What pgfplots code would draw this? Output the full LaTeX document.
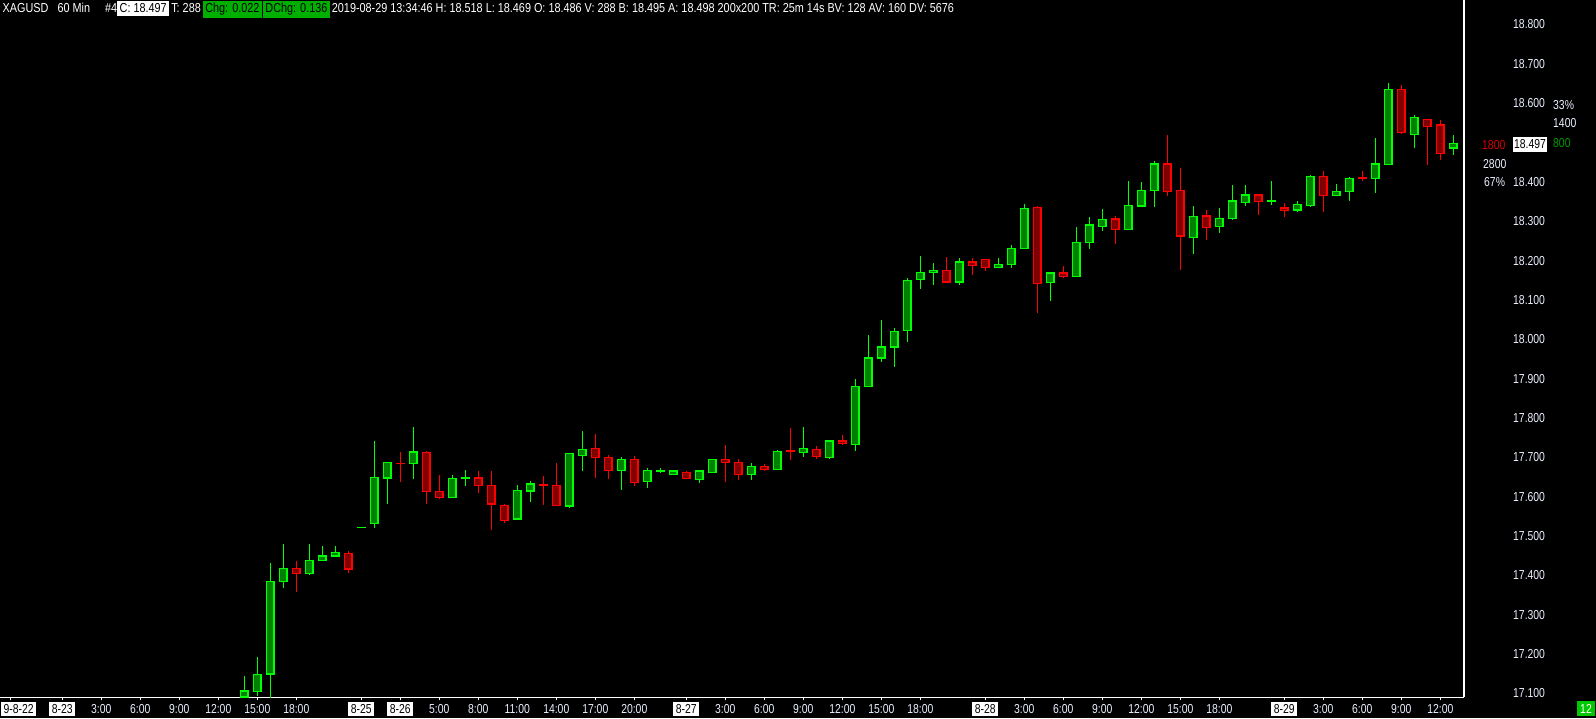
\documentclass[border=0pt]{standalone}
\usepackage{pgfplots}
\pgfplotsset{compat=1.18}
\usepackage{pgfplotstable}
\usepackage{fontspec}
\setmainfont{Liberation Sans}[FakeStretch=0.8]
\newfontfamily\hdrfont{Liberation Sans}[FakeStretch=0.835]
\definecolor{upline}{RGB}{0,255,0}
\definecolor{upfill}{RGB}{0,128,0}
\definecolor{dnline}{RGB}{255,0,0}
\definecolor{dnfill}{RGB}{128,0,0}
\definecolor{labcol}{RGB}{235,240,255}
\definecolor{hdrgreen}{RGB}{0,176,0}
\definecolor{boxgreen}{RGB}{0,200,0}
\newcommand\dl[1]{{\setlength\fboxsep{2.5pt}\colorbox{white}{\textcolor{black}{#1}}}}
\newcommand\hw[1]{{\setlength\fboxsep{2.5pt}\colorbox{white}{\textcolor{black}{#1}}}}
\newcommand\hg[1]{{\setlength\fboxsep{2.5pt}\colorbox{hdrgreen}{\textcolor{black}{#1}}}}

\pgfplotstableread{
i O H L C
0 17.091 17.145 17.088 17.106
1 17.105 17.193 17.095 17.149
2 17.149 17.431 17.088 17.385
3 17.385 17.480 17.369 17.418
5 17.405 17.480 17.402 17.438
6 17.438 17.475 17.438 17.449
7 17.449 17.475 17.448 17.459
9 17.522 17.522 17.522 17.522
10 17.532 17.742 17.521 17.649
11 17.647 17.687 17.582 17.687
13 17.685 17.777 17.646 17.713
16 17.598 17.655 17.598 17.647
17 17.646 17.668 17.626 17.647
21 17.543 17.630 17.543 17.616
22 17.614 17.640 17.587 17.632
25 17.576 17.710 17.572 17.710
26 17.705 17.767 17.666 17.720
29 17.667 17.701 17.617 17.695
31 17.639 17.673 17.621 17.667
32 17.666 17.673 17.661 17.667
33 17.657 17.665 17.657 17.665
35 17.644 17.667 17.636 17.665
36 17.662 17.695 17.662 17.695
39 17.656 17.686 17.643 17.677
41 17.669 17.719 17.669 17.715
43 17.713 17.777 17.702 17.723
45 17.700 17.744 17.697 17.741
47 17.733 17.899 17.717 17.880
48 17.880 18.011 17.879 17.952
49 17.952 18.049 17.943 17.980
50 17.980 18.028 17.930 18.020
51 18.023 18.156 17.994 18.150
52 18.152 18.212 18.129 18.170
53 18.170 18.194 18.139 18.175
55 18.145 18.207 18.139 18.196
58 18.183 18.207 18.183 18.190
59 18.190 18.240 18.182 18.231
60 18.231 18.344 18.231 18.333
62 18.145 18.170 18.096 18.168
64 18.160 18.285 18.160 18.246
65 18.246 18.311 18.230 18.290
66 18.287 18.331 18.276 18.305
68 18.279 18.402 18.279 18.340
69 18.338 18.400 18.335 18.378
70 18.378 18.453 18.335 18.445
73 18.259 18.339 18.218 18.312
75 18.286 18.334 18.270 18.307
76 18.307 18.392 18.303 18.351
77 18.347 18.392 18.339 18.366
79 18.350 18.402 18.341 18.351
81 18.328 18.351 18.324 18.343
82 18.340 18.417 18.337 18.414
84 18.365 18.395 18.365 18.376
85 18.375 18.412 18.351 18.409
87 18.408 18.511 18.372 18.445
88 18.444 18.651 18.444 18.635
90 18.520 18.570 18.486 18.564
93 18.486 18.518 18.469 18.497
}\up

\pgfplotstableread{
i O H L C
4 17.418 17.437 17.359 17.405
8 17.456 17.462 17.405 17.416
12 17.685 17.714 17.638 17.684
14 17.713 17.715 17.582 17.614
15 17.614 17.655 17.594 17.598
18 17.647 17.665 17.610 17.629
19 17.629 17.665 17.516 17.581
20 17.578 17.581 17.532 17.540
23 17.630 17.653 17.579 17.629
24 17.629 17.686 17.577 17.578
27 17.723 17.759 17.648 17.700
28 17.700 17.706 17.646 17.666
30 17.695 17.704 17.626 17.636
34 17.662 17.665 17.646 17.646
37 17.695 17.731 17.638 17.687
38 17.687 17.695 17.643 17.656
40 17.677 17.682 17.666 17.670
42 17.717 17.775 17.694 17.716
44 17.720 17.729 17.697 17.702
46 17.741 17.757 17.732 17.736
54 18.175 18.209 18.142 18.145
56 18.196 18.207 18.164 18.188
57 18.203 18.203 18.174 18.183
61 18.335 18.339 18.068 18.142
63 18.168 18.186 18.157 18.160
67 18.305 18.314 18.243 18.279
71 18.445 18.518 18.365 18.376
72 18.378 18.435 18.177 18.262
74 18.313 18.329 18.252 18.284
78 18.366 18.366 18.316 18.350
80 18.333 18.345 18.311 18.327
83 18.414 18.428 18.323 18.365
86 18.411 18.428 18.402 18.410
89 18.635 18.646 18.522 18.525
91 18.559 18.559 18.443 18.540
92 18.544 18.557 18.456 18.472
}\dn

\pgfplotsset{
  candle/.style n args={2}{draw=none, mark=none, forget plot,
    error bars/.cd, y dir=both, y explicit, error mark=none,
    error bar style={line width=#1, draw=#2, solid}},
}

\begin{document}
\fontsize{13pt}{15pt}\selectfont
\begin{tikzpicture}
\useasboundingbox (0,0) rectangle (1596pt,718pt);
\fill[black] (0,0) rectangle (1596pt,718pt);
\begin{axis}[
  at={(0pt,20.7pt)}, anchor=south west,
  width=1464pt, height=697.3pt, scale only axis,
  xmin=-18.79, xmax=93.82, ymin=17.0904, ymax=18.862,
  axis x line*=bottom, axis y line*=right,
  axis line style={white, line width=1.3pt},
  xtick={-18,-14,-11,-8,-5,-2,1,4,9,12,15,18,21,24,27,30,34,37,40,43,46,49,52,57,60,63,66,69,72,75,80,83,86,89,92},
  xticklabels={\hspace*{16.6pt}\dl{9-8-22},\dl{8-23},3:00,6:00,9:00,12:00,15:00,18:00,\dl{8-25},\dl{8-26},5:00,8:00,11:00,14:00,17:00,20:00,\dl{8-27},3:00,6:00,9:00,12:00,15:00,18:00,\dl{8-28},3:00,6:00,9:00,12:00,15:00,18:00,\dl{8-29},3:00,6:00,9:00,12:00},
  ytick={17.1,17.2,17.3,17.4,17.5,17.6,17.7,17.8,17.9,18.0,18.1,18.2,18.3,18.4,18.5,18.6,18.7,18.8},
  yticklabels={17.100,17.200,17.300,17.400,17.500,17.600,17.700,17.800,17.900,18.000,18.100,18.200,18.300,18.400,18.500,18.600,18.700,18.800},
  xtick style={draw=white, line width=1pt},
  ytick style={draw=none},
  tick align=outside, major tick length=3pt,
  xticklabel style={anchor=base, yshift=-13pt, text=labcol, inner sep=0pt},
  yticklabel style={anchor=west, xshift=46pt, text=labcol, inner sep=0pt},
]
% wicks
\addplot[candle={1.5pt}{upline}]
  table[x=i, y expr={(\thisrow{H}+\thisrow{L})/2}, y error expr={(\thisrow{H}-\thisrow{L})/2}] {\up};
\addplot[candle={1.5pt}{dnline}]
  table[x=i, y expr={(\thisrow{H}+\thisrow{L})/2}, y error expr={(\thisrow{H}-\thisrow{L})/2}] {\dn};
% bodies outer
\addplot[candle={9pt}{upline}]
  table[x=i, y expr={(\thisrow{O}+\thisrow{C})/2}, y error expr={abs(\thisrow{C}-\thisrow{O})/2+0.0019}] {\up};
\addplot[candle={9pt}{dnline}]
  table[x=i, y expr={(\thisrow{O}+\thisrow{C})/2}, y error expr={abs(\thisrow{C}-\thisrow{O})/2+0.0019}] {\dn};
% bodies inner
\addplot[candle={6pt}{upfill}]
  table[x=i, y expr={(\thisrow{O}+\thisrow{C})/2}, y error expr={max(abs(\thisrow{C}-\thisrow{O})/2-0.0019,0)}] {\up};
\addplot[candle={6pt}{dnfill}]
  table[x=i, y expr={(\thisrow{O}+\thisrow{C})/2}, y error expr={max(abs(\thisrow{C}-\thisrow{O})/2-0.0019,0)}] {\dn};
\end{axis}
% cover clipped part of lowest price label
\fill[black] (1468pt,0) rectangle (1596pt,21.3pt);
\node[fill=boxgreen, text=white, inner xsep=3.2pt, inner ysep=0pt, minimum height=15.3pt] at (1586pt,9.5pt) {12};
% header
\node[anchor=base west, inner sep=0pt, text=white, font=\hdrfont] at (2.5pt,705pt)
 {XAGUSD\hspace{9pt}60 Min\hspace{15pt}\#4\hw{C: 18.497}\hspace{2pt}T: 288\hspace{2pt}\hg{Chg: 0.022}\hspace{1pt}\hg{DChg: 0.136}\hspace{2pt}2019-08-29 13:34:46 H: 18.518 L: 18.469 O: 18.486 V: 288 B: 18.495 A: 18.498 200x200 TR: 25m 14s BV: 128 AV: 160 DV: 5676};
% right side annotations
\node[anchor=west, inner sep=0pt, text=labcol] at (1553pt,612.5pt) {33\%};
\node[anchor=west, inner sep=0pt, text=labcol] at (1553pt,594.5pt) {1400};
\node[anchor=west, inner sep=0pt, text=upfill!80!upline] at (1553pt,574.5pt) {800};
\node[anchor=west, inner sep=0pt, text=dnline!85!black] at (1482pt,573pt) {1800};
\node[fill=white, text=black, inner xsep=1.5pt, inner ysep=0pt, minimum height=15pt] at (1530pt,573.5pt) {18.497};
\node[anchor=west, inner sep=0pt, text=labcol] at (1483pt,553.5pt) {2800};
\node[anchor=west, inner sep=0pt, text=labcol] at (1484pt,536pt) {67\%};
\end{tikzpicture}
\end{document}
